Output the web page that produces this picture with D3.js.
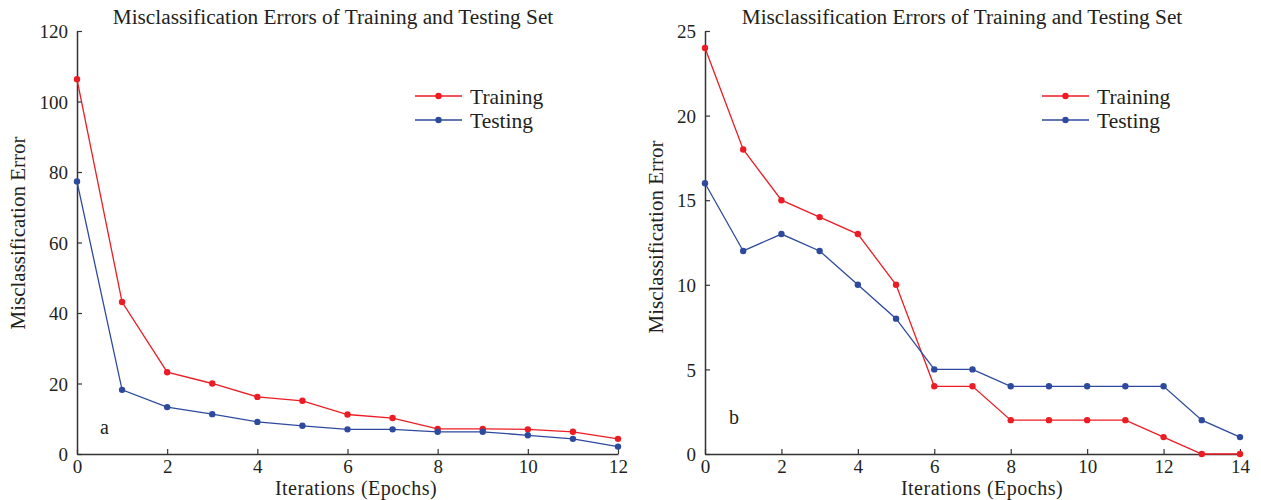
<!DOCTYPE html>
<html><head><meta charset="utf-8">
<script src="https://cdn.jsdelivr.net/npm/d3@7"></script>
<style>body{margin:0;background:#fff}svg{display:block}text{font-family:"Liberation Serif","DejaVu Serif",serif;fill:#231f20}</style>
</head><body>
<script>
const epochsA = [0,1,2,3,4,5,6,7,8,9,10,11,12];
const trainA = [106.3,43.1,23.2,20.0,16.2,15.1,11.2,10.2,7.1,7.1,7.0,6.3,4.3];
const testA  = [77.3,18.2,13.3,11.3,9.1,8.0,7.0,7.0,6.3,6.3,5.3,4.3,2.1];
const ticksXA = [0,2,4,6,8,10,12];
const ticksYA = [0,20,40,60,80,100,120];

const epochsB = [0,1,2,3,4,5,6,7,8,9,10,11,12,13,14];
const trainB = [24,18,15,14,13,10,4,4,2,2,2,2,1,0,0];
const testB  = [16,12,13,12,10,8,5,5,4,4,4,4,4,2,1];
const ticksXB = [0,2,4,6,8,10,12,14];
const ticksYB = [0,5,10,15,20,25];

const seriesNames = ["Training","Testing"];
const colors = ["#ec1c24","#2e4a9e"];
const titleText = "Misclassification Errors of Training and Testing Set";
const xLabel = "Iterations (Epochs)";
const yLabel = "Misclassification Error";

const svg = d3.select("body").append("svg").attr("width",1261).attr("height",500);

function panel(cfg){
  const x = d3.scaleLinear().domain(cfg.xd).range([cfg.x0,cfg.x1]);
  const y = d3.scaleLinear().domain(cfg.yd).range([454,31]);
  const g = svg.append("g");
  const ax = g.append("g").attr("transform","translate(0,454)")
    .call(d3.axisBottom(x).tickValues(cfg.tx).tickSizeInner(-5).tickSizeOuter(0).tickPadding(10));
  const ay = g.append("g").attr("transform",`translate(${cfg.x0},0)`)
    .call(d3.axisLeft(y).tickValues(cfg.ty).tickSizeInner(-5).tickSizeOuter(0).tickPadding(9));
  [ax,ay].forEach(a=>{
    a.select(".domain").attr("stroke","#333").attr("stroke-width",1.5);
    a.selectAll(".tick line").attr("stroke","#333").attr("stroke-width",1.2);
    a.selectAll(".tick text").attr("font-size",19).attr("font-family","Liberation Serif").attr("fill","#231f20");
  });
  ax.selectAll(".tick text").attr("y",19).attr("dy",0);
  ay.selectAll(".tick text").attr("dy","0.35em");
  const line = d3.line().x((d,i)=>x(cfg.ex[i])).y(d=>y(d));
  [cfg.tr,cfg.te].forEach((s,k)=>{
    g.append("path").datum(s).attr("d",line).attr("fill","none").attr("stroke",colors[k]).attr("stroke-width",1.3);
    g.selectAll(null).data(s).enter().append("circle")
      .attr("cx",(d,i)=>x(cfg.ex[i])).attr("cy",d=>y(d)).attr("r",3.2).attr("fill",colors[k]);
  });
  g.append("text").attr("x",cfg.tcx).attr("y",24).attr("text-anchor","middle").attr("font-size",21.3).text(titleText);
  g.append("text").attr("x",cfg.xlx).attr("y",495).attr("text-anchor","middle").attr("font-size",20)
    .attr("letter-spacing","0.5px").text(xLabel);
  g.append("text").attr("transform",`translate(${cfg.ylx},${cfg.yly}) rotate(-90)`).attr("text-anchor","middle").attr("font-size",21).text(yLabel);
  g.append("text").attr("x",cfg.lab[0]).attr("y",cfg.lab[1]).attr("font-size",20).text(cfg.labt);
  seriesNames.forEach((n,k)=>{
    const ly = 96 + k*24;
    g.append("line").attr("x1",cfg.lx).attr("x2",cfg.lx+47).attr("y1",ly).attr("y2",ly).attr("stroke",colors[k]).attr("stroke-width",1.3);
    g.append("circle").attr("cx",cfg.lx+23.5).attr("cy",ly).attr("r",3.2).attr("fill",colors[k]);
    g.append("text").attr("x",cfg.lx+55).attr("y",ly).attr("dy","0.35em").attr("font-size",21.5).text(n);
  });
}

panel({xd:[0,12],yd:[0,120],x0:77,x1:618,tx:ticksXA,ty:ticksYA,ex:epochsA,tr:trainA,te:testA,
  tcx:333,xlx:356,ylx:25,yly:233,lab:[100,434],labt:"a",lx:415});
panel({xd:[0,14],yd:[0,25],x0:705,x1:1240,tx:ticksXB,ty:ticksYB,ex:epochsB,tr:trainB,te:testB,
  tcx:962,xlx:982,ylx:663,yly:237,lab:[729,424],labt:"b",lx:1042});
</script>
</body></html>
